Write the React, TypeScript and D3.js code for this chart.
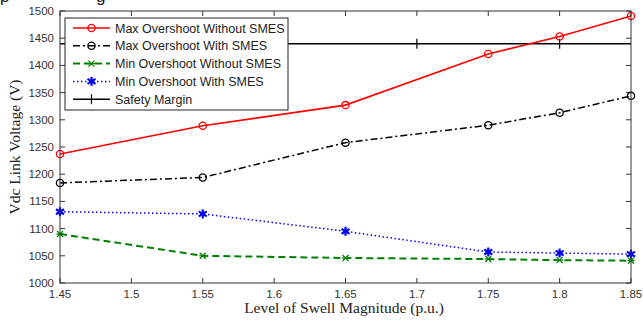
import React from 'react';
import * as d3 from 'd3';

const swell = [1.45, 1.55, 1.65, 1.75, 1.8, 1.85];
const maxWithout = [1237, 1289, 1327, 1421, 1453, 1491];
const maxWith = [1184, 1194, 1258, 1290, 1313, 1344];
const minWithout = [1090, 1050, 1046, 1044, 1042, 1041];
const minWith = [1131, 1127, 1095, 1057, 1055, 1053];
const safetyX = [1.4, 1.5, 1.6, 1.7, 1.8, 1.9];
const safetyLevel = 1440;
const xTicks = [1.45, 1.5, 1.55, 1.6, 1.65, 1.7, 1.75, 1.8, 1.85];
const yTicks = [1000, 1050, 1100, 1150, 1200, 1250, 1300, 1350, 1400, 1450, 1500];

const W = 643;
const H = 320;
const M = { left: 60, right: 631, top: 11, bottom: 283 };

const x = d3.scaleLinear().domain([1.45, 1.85]).range([M.left, M.right]);
const y = d3.scaleLinear().domain([1000, 1500]).range([M.bottom, M.top]);

const line = d3
  .line<[number, number]>()
  .x(d => x(d[0]))
  .y(d => y(d[1]));

const toPts = (vals: number[]): [number, number][] => swell.map((s, i) => [s, vals[i]]);

const Circle = ({ cx, cy, color }: { cx: number; cy: number; color: string }) => (
  <circle cx={cx} cy={cy} r={3.6} fill="none" stroke={color} strokeWidth={1.3} />
);

const Cross = ({ cx, cy }: { cx: number; cy: number }) => (
  <g stroke="#008000" strokeWidth={1.3}>
    <line x1={cx - 3} y1={cy - 3} x2={cx + 3} y2={cy + 3} />
    <line x1={cx - 3} y1={cy + 3} x2={cx + 3} y2={cy - 3} />
    <line x1={cx - 3.5} y1={cy} x2={cx + 3.5} y2={cy} />
  </g>
);

const Star = ({ cx, cy }: { cx: number; cy: number }) => (
  <g stroke="#0000ff" strokeWidth={2.2}>
    <line x1={cx} y1={cy - 4.5} x2={cx} y2={cy + 4.5} />
    <line x1={cx - 4} y1={cy - 2.5} x2={cx + 4} y2={cy + 2.5} />
    <line x1={cx - 4} y1={cy + 2.5} x2={cx + 4} y2={cy - 2.5} />
  </g>
);

const Plus = ({ cx, cy }: { cx: number; cy: number }) => (
  <g stroke="#000" strokeWidth={1.2}>
    <line x1={cx} y1={cy - 5} x2={cx} y2={cy + 5} />
  </g>
);

const legendItems = [
  { label: 'Max Overshoot Without SMES', color: '#ff0000', dash: '', width: 1.6, marker: 'o' },
  { label: 'Max Overshoot With SMES', color: '#000', dash: '7,3,2,3', width: 1.5, marker: 'o' },
  { label: 'Min Overshoot Without SMES', color: '#008000', dash: '7,4', width: 2, marker: 'x' },
  { label: 'Min Overshoot With SMES', color: '#0000ff', dash: '1.5,2.5', width: 1.5, marker: '*' },
  { label: 'Safety Margin', color: '#000', dash: '', width: 1.5, marker: '+' },
];

const renderMarker = (m: string, cx: number, cy: number, color: string, key?: string | number) => {
  if (m === 'o') return <Circle key={key} cx={cx} cy={cy} color={color} />;
  if (m === 'x') return <Cross key={key} cx={cx} cy={cy} />;
  if (m === '*') return <Star key={key} cx={cx} cy={cy} />;
  return <Plus key={key} cx={cx} cy={cy} />;
};

export default function App() {
  const series = [
    { vals: maxWithout, ...legendItems[0] },
    { vals: maxWith, ...legendItems[1] },
    { vals: minWithout, ...legendItems[2] },
    { vals: minWith, ...legendItems[3] },
  ];
  const safetyPts: [number, number][] = safetyX.map(s => [s, safetyLevel]);
  const tickLen = 5;
  const axisColor = '#333';

  return (
    <svg
      width={W}
      height={H}
      style={{ position: 'absolute', left: 0, top: 0, background: '#fff' }}
    >
      <defs>
        <clipPath id="plot-clip">
          <rect x={M.left} y={M.top} width={M.right - M.left} height={M.bottom - M.top} />
        </clipPath>
      </defs>
      <rect width={W} height={H} fill="#fff" />

      {/* cropped caption remnants */}
      <text x={0} y={2} fontFamily="Liberation Sans, Arial, sans-serif" fontSize={17} fill="#222">p</text>
      <text x={96} y={2} fontFamily="Liberation Sans, Arial, sans-serif" fontSize={17} fill="#222">g</text>

      {/* ticks */}
      <g stroke={axisColor} strokeWidth={1}>
        {xTicks.map(t => (
          <g key={`xt${t}`}>
            <line x1={x(t)} x2={x(t)} y1={M.bottom} y2={M.bottom - tickLen} />
            <line x1={x(t)} x2={x(t)} y1={M.top} y2={M.top + tickLen} />
          </g>
        ))}
        {yTicks.map(t => (
          <g key={`yt${t}`}>
            <line x1={M.left} x2={M.left + tickLen} y1={y(t)} y2={y(t)} />
            <line x1={M.right} x2={M.right - tickLen} y1={y(t)} y2={y(t)} />
          </g>
        ))}
      </g>

      {/* series */}
      <g clipPath="url(#plot-clip)">
        <path d={line(safetyPts) || ''} fill="none" stroke="#000" strokeWidth={1.5} />
        {safetyPts.map((p, i) => renderMarker('+', x(p[0]), y(p[1]), '#000', `s${i}`))}
      </g>
      {series.map((s, si) => (
        <g key={si}>
          <path
            d={line(toPts(s.vals)) || ''}
            fill="none"
            stroke={s.color}
            strokeWidth={s.width}
            strokeDasharray={s.dash || undefined}
          />
          {toPts(s.vals).map((p, i) => renderMarker(s.marker, x(p[0]), y(p[1]), s.color, i))}
        </g>
      ))}

      {/* axes box */}
      <rect
        x={M.left}
        y={M.top}
        width={M.right - M.left}
        height={M.bottom - M.top}
        fill="none"
        stroke={axisColor}
        strokeWidth={1}
      />

      {/* tick labels */}
      <g fontFamily="Liberation Sans, Arial, sans-serif" fontSize={11.5} fill="#333">
        {xTicks.map(t => (
          <text key={`xl${t}`} x={x(t)} y={M.bottom + 15} textAnchor="middle">
            {d3.format('~g')(t)}
          </text>
        ))}
        {yTicks.map(t => (
          <text key={`yl${t}`} x={M.left - 6} y={y(t) + 4} textAnchor="end">
            {t}
          </text>
        ))}
      </g>

      {/* axis labels */}
      <text
        x={344}
        y={313}
        textAnchor="middle"
        fontFamily="Liberation Serif, Times New Roman, serif"
        fontSize={15.5}
        fill="#222"
      >
        Level of Swell Magnitude (p.u.)
      </text>
      <text
        transform={`translate(20,${(M.top + M.bottom) / 2}) rotate(-90)`}
        textAnchor="middle"
        fontFamily="Liberation Serif, Times New Roman, serif"
        fontSize={15.5}
        fill="#222"
      >
        Vdc Link Voltage (V)
      </text>

      {/* legend */}
      <g>
        <rect x={65} y={18} width={223} height={92} fill="#fff" stroke="#222" strokeWidth={1} />
        {legendItems.map((it, i) => {
          const ly = 28 + i * 17.8;
          return (
            <g key={it.label}>
              <line
                x1={73}
                x2={110}
                y1={ly}
                y2={ly}
                stroke={it.color}
                strokeWidth={it.width}
                strokeDasharray={it.dash || undefined}
              />
              {renderMarker(it.marker, 91.5, ly, it.color)}
              <text
                x={115}
                y={ly + 4.5}
                fontFamily="Liberation Sans, Arial, sans-serif"
                fontSize={12.5}
                fill="#222"
              >
                {it.label}
              </text>
            </g>
          );
        })}
      </g>
    </svg>
  );
}
